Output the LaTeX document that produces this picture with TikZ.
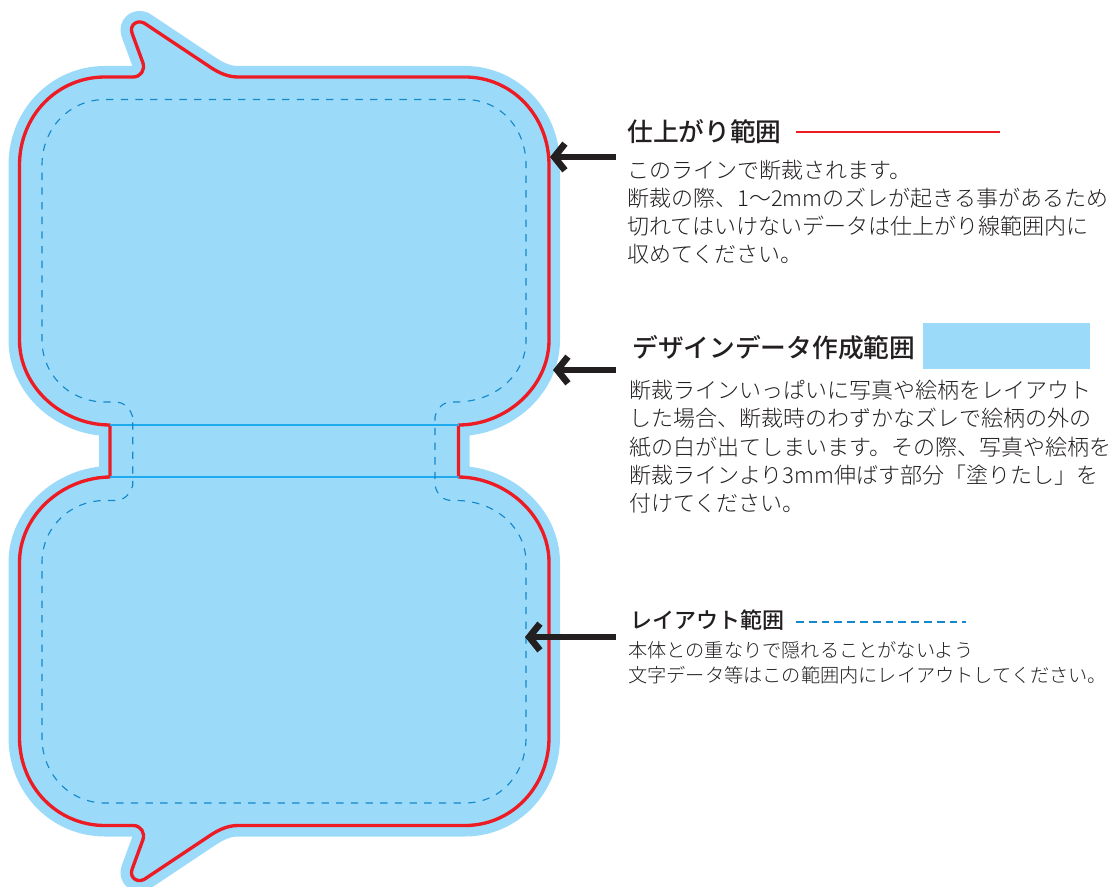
\documentclass[tikz,border=0pt]{standalone}
\usepackage{fontspec}
\usetikzlibrary{arrows.meta}
\newfontfamily\jpfont{Noto Sans CJK JP Light}
\newfontfamily\jpheadfont{Noto Sans CJK JP Medium}
\definecolor{bleedblue}{HTML}{9BDBF9}
\definecolor{trimred}{HTML}{ED1C24}
\definecolor{layoutblue}{HTML}{1488CC}
\definecolor{foldblue}{HTML}{1FAAEE}
\definecolor{inkblack}{HTML}{231F20}
\tikzset{
    trimline/.style={draw=trimred, line width=2.5pt, line join=round},
    bleedarea/.style={draw=bleedblue, fill=bleedblue, line width=16.5pt, line join=round},
    layoutline/.style={draw=layoutblue, line width=0.85pt, dash pattern=on 5.5pt off 5.5pt},
    foldline/.style={draw=foldblue, line width=0.9pt},
    pointer/.style={draw=inkblack, line width=5.2pt, -{Straight Barb[length=8pt, width=20pt, line width=5pt]}},
    headtext/.style={inner sep=0pt, anchor=base west, text=inkblack, font=\jpheadfont\fontsize{19.3}{24}\selectfont},
    bodytext/.style={inner sep=0pt, anchor=north west, align=left, text=inkblack, font=\jpfont\fontsize{16.5}{21}\selectfont},
}
\begin{document}
\begin{tikzpicture}[x=0.75pt, y=-0.75pt]
        \useasboundingbox (0,0) rectangle (1112,887);
        \begin{scope}
            \coordinate (neckTL) at (110,425);
            \coordinate (neckBL) at (110,477);
            \coordinate (neckTR) at (458.5,425);
            \coordinate (neckBR) at (458.5,477);
            % outline
            \draw[trimline, preaction={bleedarea}] (neckTL)
                .. controls (62,425) and (19.5,387) .. (19.5,340) -- (19.5,165)
                .. controls (19.5,116) and (57,77) .. (105,77) -- (133,77)
                .. controls (141,77) and (145,70) .. (143,63) -- (132,33)
                .. controls (129,24) and (139,18) .. (147,25) -- (210,67)
                .. controls (219,73) and (228,77) .. (238,77) -- (465,77)
                .. controls (512,77) and (549,116) .. (549,165) -- (549,340)
                .. controls (549,387) and (506,425) .. (neckTR) -- (neckBR)
                .. controls (506,477.5) and (549,515.5) .. (549,562.5) -- (549,737.5)
                .. controls (549,786.5) and (512,825.5) .. (465,825.5) -- (238,825.5)
                .. controls (228,825.5) and (219,829.5) .. (210,835.5) -- (147,877.5)
                .. controls (139,884.5) and (129,878.5) .. (132,869.5) -- (143,839.5)
                .. controls (145,832.5) and (141,825.5) .. (133,825.5) -- (105,825.5)
                .. controls (57,825.5) and (19.5,786.5) .. (19.5,737.5) -- (19.5,562.5)
                .. controls (19.5,515.5) and (62,477.5) .. (neckBL) -- cycle;
            \draw[foldline] (neckTL) -- (neckTR);
            \draw[foldline] (neckBL) -- (neckBR);
            % layout range
            \draw[layoutline] (132.7,417)
                .. controls (130,408) and (124,402) .. (115,402) -- (105,402)
                .. controls (70,402) and (42,375) .. (42,340) -- (42,165)
                .. controls (42,128) and (70,99.5) .. (105,99.5) -- (465,99.5)
                .. controls (500,99.5) and (526,128) .. (526,165) -- (526,340)
                .. controls (526,375) and (495,402) .. (456,402) -- (452,402)
                .. controls (443,402) and (437,408) .. (435,417) -- (435,485.5)
                .. controls (437,494.5) and (443,500.5) .. (452,500.5) -- (456,500.5)
                .. controls (495,500.5) and (526,527.5) .. (526,562.5) -- (526,737.5)
                .. controls (526,774.5) and (500,803) .. (465,803) -- (105,803)
                .. controls (70,803) and (42,774.5) .. (42,737.5) -- (42,562.5)
                .. controls (42,527.5) and (70,500.5) .. (105,500.5) -- (115,500.5)
                .. controls (124,500.5) and (130,494.5) .. (132.7,485.5) -- cycle;
        \end{scope}
        \begin{scope}
            \node[headtext] (trimhead) at (627,142) {仕上がり範囲};
            \node[bodytext] (trimbody) at (627,160) {このラインで断裁されます。\\断裁の際、1〜2mmのズレが起きる事があるため\\切れてはいけないデータは仕上がり線範囲内に\\収めてください。};
            \coordinate (trimkeyA) at (796,132);
            \coordinate (trimkeyB) at (1000,132);
            \draw[draw=trimred, line width=0.9pt] (trimkeyA) -- (trimkeyB);
            \coordinate (trimtail) at (616,157);
            \coordinate (trimtip) at (550,157);
            \draw[pointer] (trimtail) -- (trimtip);

            \node[headtext] (bleedhead) at (632,358) {デザインデータ作成範囲};
            \node[bodytext, font=\jpfont\fontsize{16.5}{21.15}\selectfont] (bleedbody) at (629,380) {断裁ラインいっぱいに写真や絵柄をレイアウト\\した場合、断裁時のわずかなズレで絵柄の外の\\紙の白が出てしまいます。その際、写真や絵柄を\\断裁ラインより3mm伸ばす部分「塗りたし」を\\付けてください。};
            \node[fill=bleedblue, inner sep=0pt, minimum width=125.25pt, minimum height=34.5pt] (bleedkey) at (1006.5,346) {};
            \coordinate (bleedtail) at (616,370);
            \coordinate (bleedtip) at (553,370);
            \draw[pointer] (bleedtail) -- (bleedtip);

            \node[headtext, font=\jpheadfont\fontsize{16.5}{20}\selectfont] (layouthead) at (630,628) {レイアウト範囲};
            \node[bodytext, font=\jpfont\fontsize{14.4}{18.75}\selectfont] (layoutbody) at (628,641) {本体との重なりで隠れることがないよう\\文字データ等はこの範囲内にレイアウトしてください。};
            \coordinate (layoutkeyA) at (796,622);
            \coordinate (layoutkeyB) at (966,622);
            \draw[draw=layoutblue, line width=0.85pt, dash pattern=on 5.8pt off 3.8pt] (layoutkeyA) -- (layoutkeyB);
            \coordinate (layouttail) at (616,637);
            \coordinate (layouttip) at (525,637);
            \draw[pointer] (layouttail) -- (layouttip);
        \end{scope}
    \end{tikzpicture}
\end{document}
